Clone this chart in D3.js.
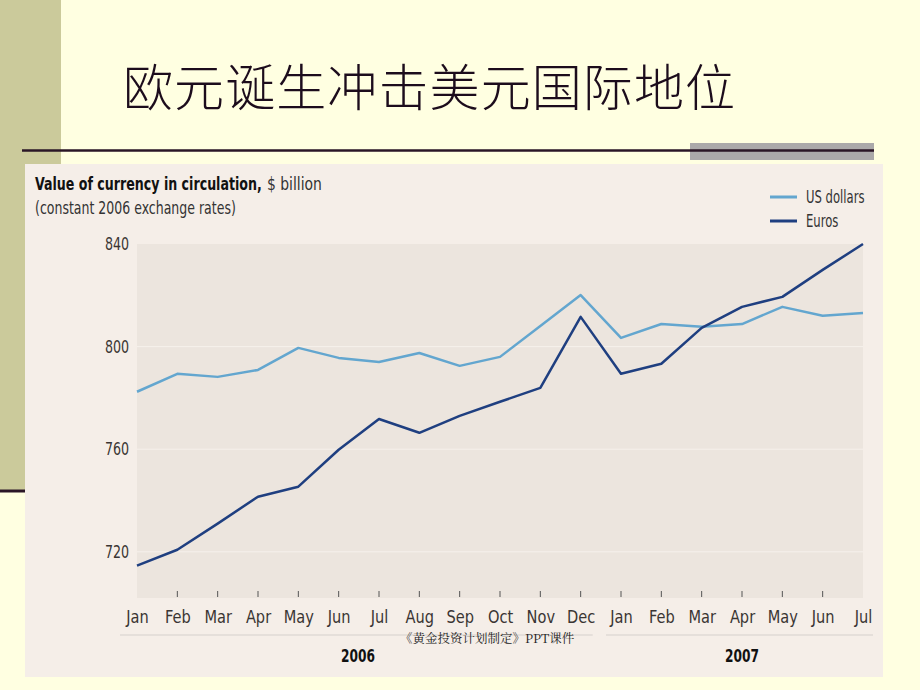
<!DOCTYPE html>
<html><head><meta charset="utf-8">
<script src="https://cdn.jsdelivr.net/npm/d3@7"></script>
<style>
html,body{margin:0;padding:0;background:#FFFFE1;}
svg{display:block;}
</style></head>
<body>
<script>
const months = ["Jan","Feb","Mar","Apr","May","Jun","Jul","Aug","Sep","Oct","Nov","Dec","Jan","Feb","Mar","Apr","May","Jun","Jul"];
const years = [{label:"2006", from:0, to:11},{label:"2007", from:12, to:18}];
const usDollars = [782.4,789.4,788.2,790.9,799.5,795.6,794.0,797.5,792.5,796.0,808.0,820.1,803.4,808.8,807.7,808.8,815.5,812.0,813.1];
const euros = [714.6,720.8,731.0,741.5,745.4,759.8,771.8,766.4,773.0,778.5,783.9,811.6,789.4,793.3,807.3,815.5,819.4,829.9,840.0];
const yTicks = [720,760,800,840];
const series = [
  {name:"US dollars", values:usDollars, color:"#63A6CF"},
  {name:"Euros", values:euros, color:"#1F3F80"}
];

const W=920,H=690;
const svg=d3.select("body").append("svg").attr("width",W).attr("height",H);
const cond = "'Liberation Sans Narrow','DejaVu Sans Condensed','Roboto Condensed',sans-serif";
function condense(sel, f){
  sel.each(function(){ const w=this.getComputedTextLength(); this.setAttribute("textLength", w*f); this.setAttribute("lengthAdjust","spacingAndGlyphs"); });
}
function fitTo(sel, w){ sel.attr("textLength",w).attr("lengthAdjust","spacingAndGlyphs"); }
// squeeze horizontally via transform around the anchor (x,y)
function squeeze(sel, target){
  sel.each(function(){
    const w=this.getComputedTextLength(), s=target/w;
    const x=+this.getAttribute("x"), y=+this.getAttribute("y");
    this.setAttribute("transform",`translate(${x},${y}) scale(${s},1) translate(${-x},${-y})`);
  });
}

// slide background
svg.append("rect").attr("width",W).attr("height",H).attr("fill","#FFFFE1");
svg.append("rect").attr("x",0).attr("y",0).attr("width",61).attr("height",490).attr("fill","#CBCA9B");
svg.append("rect").attr("x",690).attr("y",143).attr("width",184).attr("height",17).attr("fill","#ABA9AA");
svg.append("line").attr("x1",22).attr("x2",874).attr("y1",150.5).attr("y2",150.5).attr("stroke","#2a1626").attr("stroke-width",2.5);
svg.append("line").attr("x1",0).attr("x2",30).attr("y1",491).attr("y2",491).attr("stroke","#2a1626").attr("stroke-width",3);

svg.append("text").attr("x",123).attr("y",106).attr("font-family","'Noto Sans CJK SC',sans-serif")
  .attr("font-weight",300).attr("font-size",50).attr("fill","#1c0c1c").attr("textLength",612)
  .text("欧元诞生冲击美元国际地位");

// chart panel
svg.append("rect").attr("x",25).attr("y",164).attr("width",858).attr("height",513).attr("fill","#F5EEE8");

const x=d3.scaleLinear().domain([0,months.length-1]).range([137,863]);
const y=d3.scaleLinear().domain([702,840]).range([598,244]);

svg.append("rect").attr("x",x(0)).attr("y",y(840)).attr("width",x(18)-x(0)).attr("height",y(702)-y(840)).attr("fill","#ECE5DE");

// gridlines
svg.append("g").selectAll("line").data(yTicks.filter(d=>d<840)).join("line")
  .attr("x1",x(0)).attr("x2",x(18)).attr("y1",d=>y(d)).attr("y2",d=>y(d))
  .attr("stroke","#F6F1EC").attr("stroke-width",1);

// y axis
const yAxis=d3.axisLeft(y).tickValues(yTicks).tickSize(0).tickPadding(8);
const gy=svg.append("g").attr("transform",`translate(${x(0)},0)`).call(yAxis);
gy.select(".domain").remove();
gy.selectAll("text").attr("font-family",cond).attr("font-size",18).attr("fill","#3a3533").call(condense,0.78);

// x axis
const xAxis=d3.axisBottom(x).tickValues(d3.range(months.length)).tickFormat(i=>months[i]).tickSize(0).tickPadding(12);
const gx=svg.append("g").attr("transform",`translate(0,${y(702)})`).call(xAxis);
gx.select(".domain").remove();
gx.selectAll("text").attr("font-family",cond).attr("font-size",18).attr("fill","#3a3533").call(condense,0.9);
// inner ticks
svg.append("g").selectAll("line").data(d3.range(1,months.length-1)).join("line")
  .attr("x1",d=>x(d)).attr("x2",d=>x(d)).attr("y1",y(702)-7).attr("y2",y(702)-1)
  .attr("stroke","#555").attr("stroke-width",1);

// year groups
const yg=svg.append("g");
yg.selectAll("line").data(years).join("line")
  .attr("x1",d=>d.from===0?120:x(d.from)-15).attr("x2",d=>d.to===18?873:x(d.to)+12)
  .attr("y1",635).attr("y2",635).attr("stroke","#D6D0CB").attr("stroke-width",1.2);
yg.selectAll("text").data(years).join("text")
  .attr("x",d=>d.from===0?358:742).attr("y",662).attr("text-anchor","middle")
  .attr("font-family",cond).attr("font-weight","bold").attr("font-size",18).attr("fill","#111")
  .text(d=>d.label).call(fitTo,34);

// lines
const line=d3.line().x((d,i)=>x(i)).y(d=>y(d));
svg.append("g").selectAll("path").data(series).join("path")
  .attr("d",d=>line(d.values)).attr("fill","none").attr("stroke",d=>d.color).attr("stroke-width",2.5)
  .attr("stroke-linejoin","round");

// titles
svg.append("text").attr("x",35).attr("y",190).attr("font-family",cond).attr("font-size",17)
  .attr("font-weight","bold").attr("fill","#111").text("Value of currency in circulation,").call(squeeze,227);
svg.append("text").attr("x",267).attr("y",190).attr("font-family",cond).attr("font-size",17)
  .attr("fill","#333").text("$ billion").call(squeeze,55);
svg.append("text").attr("x",35).attr("y",214).attr("font-family",cond).attr("font-size",17).attr("fill","#333")
  .text("(constant 2006 exchange rates)").call(squeeze,201);

// legend
const lg=svg.append("g").selectAll("g").data(series).join("g")
  .attr("transform",(d,i)=>`translate(770,${197+i*24})`);
lg.append("line").attr("x1",0).attr("x2",27).attr("stroke",d=>d.color).attr("stroke-width",3);
lg.append("text").attr("x",36).attr("y",6).attr("font-family",cond).attr("font-size",17).attr("fill","#333")
  .text(d=>d.name).call(condense,0.76);

// footer
svg.append("text").attr("x",400).attr("y",643).attr("font-family","'Noto Serif CJK SC','Noto Sans CJK SC',serif")
  .attr("font-size",12.5).attr("fill","#222").text("《黄金投资计划制定》PPT课件");
</script>
</body></html>
